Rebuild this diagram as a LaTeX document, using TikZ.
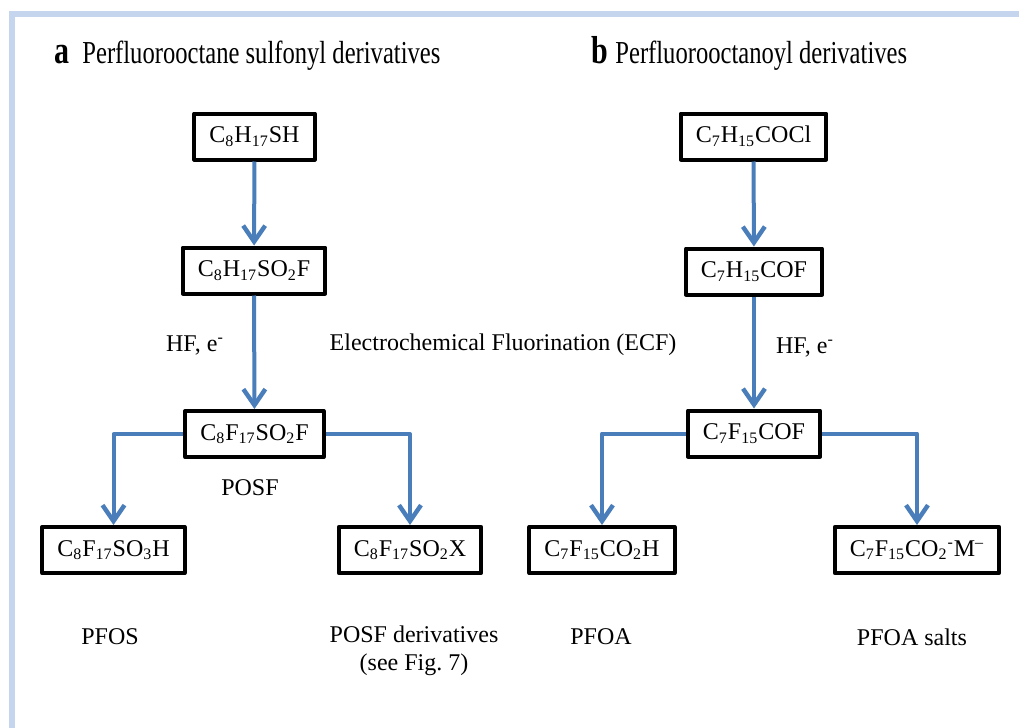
\documentclass[tikz,border=0pt]{standalone}
\usepackage{graphicx}
\usepackage{fontspec}
\setmainfont{Liberation Serif}
\usetikzlibrary{arrows.meta}
\definecolor{flowblue}{HTML}{4A7EBB}
\definecolor{framebg}{HTML}{C6D5EE}
\newcommand{\sbs}[1]{\textsubscript{#1}}
\newcommand{\sps}[1]{\textsuperscript{#1}}
\begin{document}
\begin{tikzpicture}[x=0.5pt,y=-0.5pt,line join=round,
	box/.style={draw=black,line width=2pt,inner xsep=7.5pt,minimum height=23pt,font=\fontsize{12}{14}\selectfont},
	flow/.style={draw=flowblue,line width=2pt,-{Straight Barb[length=8pt,width=11pt,line width=2.2pt]}},
	lbl/.style={font=\fontsize{12}{14}\selectfont,align=center}]
			\useasboundingbox (0,0) rectangle (1019,728);
			\fill[white] (0,0) rectangle (1019,728);
			\fill[framebg] (9,11) rectangle (1019,17);
			\fill[framebg] (9,11) rectangle (15,728);
			% titles
			\node[anchor=base west,inner sep=0pt,font=\fontsize{15}{18}\selectfont\bfseries](ta) at (54,63){\scalebox{1}[1.3]{a}};
			\node[anchor=base west,inner sep=0pt,font=\fontsize{12.3}{14}\selectfont](tatxt) at (82,63){\scalebox{1}[1.3]{Perfluorooctane sulfonyl derivatives}};
			\node[anchor=base west,inner sep=0pt,font=\fontsize{15}{18}\selectfont\bfseries](tb) at (591,63){\scalebox{1}[1.3]{b}};
			\node[anchor=base west,inner sep=0pt,font=\fontsize{12.3}{14}\selectfont](tbtxt) at (615,63){\scalebox{1}[1.3]{Perfluorooctanoyl derivatives}};
			% a: sulfonyl route
			\node[box](sh) at (254.5,136.5){C\sbs{8}H\sbs{17}SH};
			\node[box](hso2f) at (254,270.5){C\sbs{8}H\sbs{17}SO\sbs{2}F};
			\node[box](fso2f) at (254.5,434){C\sbs{8}F\sbs{17}SO\sbs{2}F};
			\node[box](so3h) at (113.5,550){C\sbs{8}F\sbs{17}SO\sbs{3}H};
			\node[box](so2x) at (410,550){C\sbs{8}F\sbs{17}SO\sbs{2}X};
			\draw[flow] (sh)--(hso2f);
			\draw[flow] (hso2f)--(fso2f);
			\draw[flow] (fso2f.west)-|(so3h.north);
			\draw[flow] (fso2f.east)-|(so2x.north);
			% b: octanoyl route
			\node[box](cocl) at (753.5,136.5){C\sbs{7}H\sbs{15}COCl};
			\node[box](hcof) at (754,271.5){C\sbs{7}H\sbs{15}COF};
			\node[box](fcof) at (754,433.5){C\sbs{7}F\sbs{15}COF};
			\node[box](co2h) at (602,550){C\sbs{7}F\sbs{15}CO\sbs{2}H};
			\node[box](co2m) at (917,550){C\sbs{7}F\sbs{15}CO\sbs{2}\sps{-}M\sps{\textendash}};
			\draw[flow] (cocl)--(hcof);
			\draw[flow] (hcof)--(fcof);
			\draw[flow] (fcof.west)-|(co2h.north);
			\draw[flow] (fcof.east)-|(co2m.north);
			% labels
			\node[lbl](hfa) at (195,345){HF, e\sps{-}};
			\node[lbl](ecf) at (503,345){Electrochemical Fluorination (ECF)};
			\node[lbl](hfb) at (805,347){HF, e\sps{-}};
			\node[lbl](posf) at (250,488){POSF};
			\node[lbl](pfos) at (110,637){PFOS};
			\node[lbl](posfd) at (414,651){POSF derivatives\\(see Fig.~7)};
			\node[lbl](pfoa) at (601,637){PFOA};
			\node[lbl](pfoas) at (912,637){PFOA salts};
\end{tikzpicture}
\end{document}
